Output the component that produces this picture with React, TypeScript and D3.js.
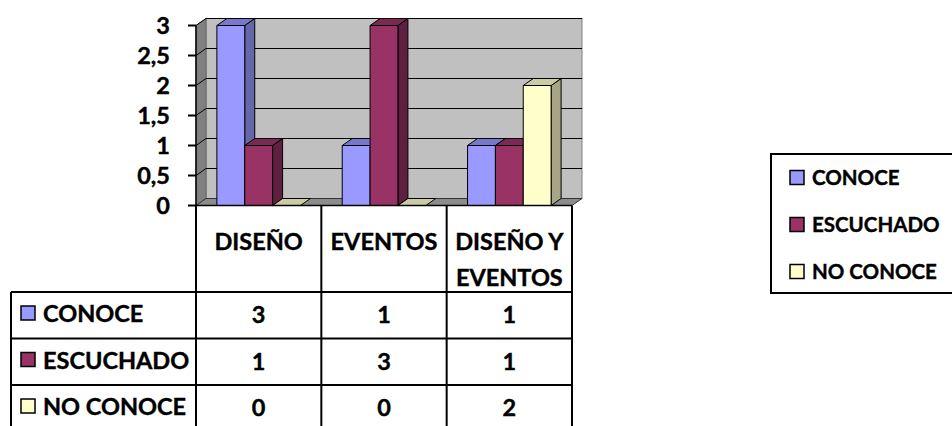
import React from "react";
import * as d3 from "d3";

const categories = ["DISEÑO", "EVENTOS", "DISEÑO Y EVENTOS"];
const categoryLines = [["DISEÑO"], ["EVENTOS"], ["DISEÑO Y", "EVENTOS"]];
const seriesNames = ["CONOCE", "ESCUCHADO", "NO CONOCE"];
const conoce = [3, 1, 1];
const escuchado = [1, 3, 1];
const noConoce = [0, 0, 2];
const yTicks = [0, 0.5, 1, 1.5, 2, 2.5, 3];
const yTickLabels = ["0", "0,5", "1", "1,5", "2", "2,5", "3"];

const seriesValues = [conoce, escuchado, noConoce];
const faceColors = [
  { front: "#9999FF", top: "#7777CC", side: "#6666AA" },
  { front: "#993366", top: "#7A2952", side: "#5E1F40" },
  { front: "#FFFFCC", top: "#CCCCA3", side: "#A6A687" },
];

const FONT = "Lato, 'Open Sans', sans-serif";

export default function App() {
  const W = 952;
  const H = 426;
  const x0 = 196;
  const x1 = 572;
  const dx = 10;
  const dy = -7;
  const y = d3.scaleLinear().domain([0, 3]).range([205.5, 25.5]);
  const xCat = d3.scaleBand().domain(categories).range([x0, x1]).padding(0);
  const xSer = d3
    .scaleBand()
    .domain(seriesNames)
    .range([0, xCat.bandwidth()])
    .paddingInner(0)
    .paddingOuter(0.75);

  const yTop = y(3);
  const yBot = y(0);
  const pts = (arr: number[][]) => arr.map((p) => p.join(",")).join(" ");

  const tableLeft = 11;
  const headerBottom = 292;
  const rowH = 46.5;
  const rowTops = seriesNames.map((_, i) => headerBottom + i * rowH);
  const colEdges = [x0, ...categories.map((c) => (xCat(c) as number) + xCat.bandwidth())];

  const bars: React.ReactNode[] = [];
  categories.forEach((c, ci) => {
    seriesNames.forEach((s, si) => {
      const v = seriesValues[si][ci];
      const bx = (xCat(c) as number) + (xSer(s) as number);
      const bw = xSer.bandwidth();
      const yv = y(v);
      const col = faceColors[si];
      bars.push(
        <g key={`${ci}-${si}`} stroke="#000" strokeWidth={1} strokeLinejoin="round">
          {v > 0 && (
            <polygon
              points={pts([
                [bx + bw, yv],
                [bx + bw + dx, yv + dy],
                [bx + bw + dx, yBot + dy],
                [bx + bw, yBot],
              ])}
              fill={col.side}
            />
          )}
          {v > 0 && <rect x={bx} y={yv} width={bw} height={yBot - yv} fill={col.front} />}
          <polygon
            points={pts([
              [bx, yv],
              [bx + bw, yv],
              [bx + bw + dx, yv + dy],
              [bx + dx, yv + dy],
            ])}
            fill={col.top}
          />
        </g>
      );
    });
  });

  return (
    <svg
      width={W}
      height={H}
      style={{ position: "absolute", left: 0, top: 0, background: "#fff" }}
      fontFamily={FONT}
      fontWeight={700}
    >
      <rect x={x0 + dx} y={yTop + dy} width={x1 - x0} height={yBot - yTop} fill="#C0C0C0" stroke="#808080" strokeWidth={1} />
      <polygon
        points={pts([
          [x0, yTop],
          [x0 + dx, yTop + dy],
          [x0 + dx, yBot + dy],
          [x0, yBot],
        ])}
        fill="#808080"
        stroke="#666"
        strokeWidth={1}
      />
      <polygon
        points={pts([
          [x0, yBot],
          [x1, yBot],
          [x1 + dx, yBot + dy],
          [x0 + dx, yBot + dy],
        ])}
        fill="#8C8C8C"
        stroke="#333"
        strokeWidth={1}
      />
      {yTicks.slice(1).map((t) => (
        <g key={`g${t}`} stroke="#000" strokeWidth={1}>
          <line x1={x0 + dx} x2={x1 + dx} y1={y(t) + dy} y2={y(t) + dy} />
          <line x1={x0} x2={x0 + dx} y1={y(t)} y2={y(t) + dy} />
        </g>
      ))}
      {bars}
      <line x1={x0} x2={x0} y1={yTop} y2={yBot} stroke="#000" strokeWidth={1.5} />
      {yTicks.map((t, i) => (
        <g key={`t${t}`}>
          <line x1={x0 - 8} x2={x0} y1={y(t)} y2={y(t)} stroke="#000" strokeWidth={2} />
          <text x={170} y={y(t) + 8.5} textAnchor="end" fontSize={23.5} fill="#000" stroke="#000" strokeWidth={0.4}>
            {yTickLabels[i]}
          </text>
        </g>
      ))}
      <line x1={x0} x2={x1} y1={yBot} y2={yBot} stroke="#000" strokeWidth={1.5} />

      <g stroke="#000" strokeWidth={2}>
        {colEdges.map((cx, i) => (
          <line key={`v${i}`} x1={cx} x2={cx} y1={yBot} y2={H} />
        ))}
        <line x1={tableLeft} x2={tableLeft} y1={headerBottom} y2={H} />
        {rowTops.map((ry, i) => (
          <line key={`h${i}`} x1={tableLeft} x2={x1} y1={ry} y2={ry} />
        ))}
      </g>
      <g stroke="#000" strokeWidth={0.4}>
        {categories.map((c, ci) => {
          const cx = (xCat(c) as number) + xCat.bandwidth() / 2;
          return categoryLines[ci].map((ln, li) => (
            <text key={`c${ci}-${li}`} x={cx} y={250 + li * 36} textAnchor="middle" fontSize={23.5} fill="#000">
              {ln}
            </text>
          ));
        })}
        {seriesNames.map((s, si) => (
          <g key={`r${si}`}>
            <text x={43} y={rowTops[si] + 30} fontSize={23.5} fill="#000">
              {s}
            </text>
            {categories.map((c, ci) => (
              <text
                key={`v${si}-${ci}`}
                x={(xCat(c) as number) + xCat.bandwidth() / 2}
                y={rowTops[si] + 31}
                textAnchor="middle"
                fontSize={23.5}
                fill="#000"
              >
                {seriesValues[si][ci]}
              </text>
            ))}
          </g>
        ))}
      </g>
      {seriesNames.map((s, si) => (
        <rect key={`rs${si}`} x={21} y={rowTops[si] + 14} width={14} height={14} fill={faceColors[si].front} stroke="#000" strokeWidth={1.5} />
      ))}

      <rect x={771} y={154} width={200} height={139} fill="#fff" stroke="#000" strokeWidth={2} />
      {seriesNames.map((s, si) => {
        const cy = 177.5 + si * 47;
        return (
          <g key={`l${si}`}>
            <rect x={790} y={cy - 7} width={14} height={14} fill={faceColors[si].front} stroke="#000" strokeWidth={1.5} />
            <text x={812} y={cy + 7.5} fontSize={20.5} fill="#000" stroke="#000" strokeWidth={0.4}>
              {s}
            </text>
          </g>
        );
      })}
    </svg>
  );
}
